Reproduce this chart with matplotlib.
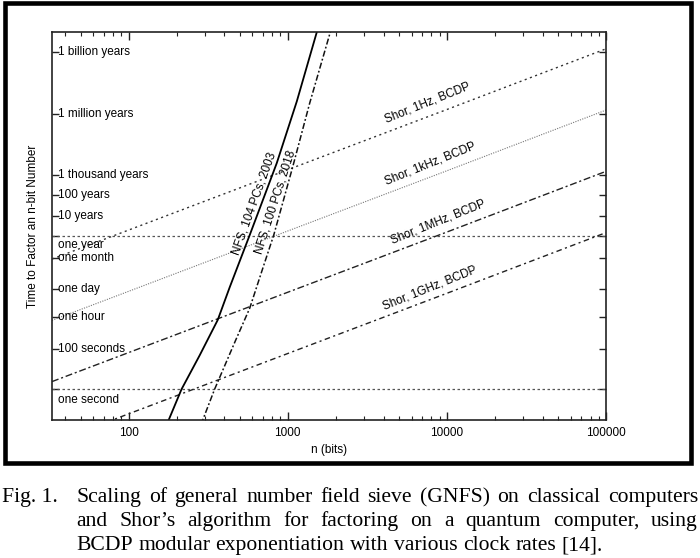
import matplotlib
matplotlib.use("Agg")
import matplotlib.pyplot as plt
from matplotlib.ticker import LogLocator, NullLocator, NullFormatter
from matplotlib.patches import Rectangle

# figure size in pixels (dpi 100)
W = 700; H = 558

# Shor's algorithm, BCDP, time in years vs n (bits)
n_shor    = [33, 100, 1000, 10000, 100000]
shor_1hz  = [0.076, 2.0, 1800, 1.6e6, 1.5e9]
shor_1khz = [7.6e-5, 2.0e-3, 1.8, 1600, 1.5e6]
shor_1mhz = [7.6e-8, 2.0e-6, 1.8e-3, 1.6, 1500]
shor_1ghz = [7.6e-11, 2.0e-9, 1.8e-6, 1.6e-3, 1.5]

# GNFS on classical machines, time in years
nfs_2003_n     = [170, 215, 280, 363, 432, 577, 853, 1140, 1560]
nfs_2003_years = [4e-10, 3.2e-8, 1.5e-6, 7.9e-5, 3.2e-3, 1.15, 3800, 4.0e6, 1.9e10]
nfs_2018_n     = [285, 347, 470, 577, 700, 817, 1074, 1374, 1880]
nfs_2018_years = [6e-10, 3.2e-8, 7.9e-6, 3.0e-4, 0.03, 1.15, 2450, 3.3e6, 1.5e10]

# reference lines: one year, one second
ref_years = [1.0, 3.17e-8]

xtick_vals   = [100, 1000, 10000, 100000]
xtick_labels = ["100", "1000", "10000", "100000"]

ytick_years  = [1e9, 1e6, 1e3, 100, 10, 1.0, 1/12, 2.738e-3, 1.141e-4, 3.169e-6, 3.17e-8]
ytick_labels = ["1 billion years", "1 million years", "1 thousand years", "100 years",
                "10 years", "one year", "one month", "one day", "one hour",
                "100 seconds", "one second"]
ytick_drop   = {"one year": -9, "one second": -11}   # px, label sits under the line

plt.rcParams['font.family'] = ['Liberation Sans', 'DejaVu Sans']
fs = 8.5

fig = plt.figure(figsize=(W/100, H/100), dpi=100)
ax = fig.add_axes([52/W, 1-420/H, (606-52)/W, (420-32)/H])
ax.set_xscale('log'); ax.set_yscale('log')
ax.set_xlim(33, 1e5)
ax.set_ylim(1e-9, 1e10)

for y in ref_years:
    ax.axhline(y, color='#555555', lw=0.9, ls=(0, (2, 2)))

ax.plot(n_shor, shor_1hz,  color='#333333', lw=1.0, ls=(0, (1.5, 2.5)))
ax.plot(n_shor, shor_1khz, color='#777777', lw=0.8, ls=(0, (1, 1.2)))
ax.plot(n_shor, shor_1mhz, color='#222222', lw=1.0, ls=(0, (5, 2, 1.5, 2)))
ax.plot(n_shor, shor_1ghz, color='#222222', lw=1.0, ls=(0, (4, 2.5, 1.5, 2.5)))

ax.plot(nfs_2003_n, nfs_2003_years, color='black', lw=1.3, ls='-')
ax.plot(nfs_2018_n, nfs_2018_years, color='#111111', lw=1.1, ls=(0, (4, 1.5, 1.2, 1.5)))

# line labels
ax.text(0.677, 0.817, "Shor, 1Hz, BCDP", transform=ax.transAxes, rotation=22,
        ha='center', va='center', rotation_mode='anchor', fontsize=fs)
ax.text(0.682, 0.660, "Shor, 1kHz, BCDP", transform=ax.transAxes, rotation=22,
        ha='center', va='center', rotation_mode='anchor', fontsize=fs)
ax.text(0.697, 0.510, "Shor, 1MHz, BCDP", transform=ax.transAxes, rotation=22,
        ha='center', va='center', rotation_mode='anchor', fontsize=fs)
ax.text(0.682, 0.340, "Shor, 1GHz, BCDP", transform=ax.transAxes, rotation=22,
        ha='center', va='center', rotation_mode='anchor', fontsize=fs)
ax.text(0.366, 0.557, "NFS, 104 PCs, 2003", transform=ax.transAxes, rotation=70,
        ha='center', va='center', rotation_mode='anchor', fontsize=fs)
ax.text(0.403, 0.562, "NFS, 100 PCs, 2018", transform=ax.transAxes, rotation=72,
        ha='center', va='center', rotation_mode='anchor', fontsize=fs)

# ticks
ax.set_xticks(xtick_vals)
ax.set_xticklabels(xtick_labels)
ax.xaxis.set_minor_locator(LogLocator(base=10, subs=range(2, 10)))
ax.xaxis.set_minor_formatter(NullFormatter())
ax.set_yticks(ytick_years)
ax.yaxis.set_minor_locator(NullLocator())
ax.tick_params(which='both', direction='in', top=True, right=True, color='#222222')
ax.tick_params(which='major', length=6, width=1)
ax.tick_params(which='minor', length=3, width=0.8)
ax.tick_params(axis='y', which='major', length=5, labelleft=False)
ax.tick_params(axis='x', pad=5, labelsize=fs)

for val, lab in zip(ytick_years, ytick_labels):
    dy = ytick_drop.get(lab, 0)
    ax.annotate(lab, xy=(0, val), xycoords=ax.get_yaxis_transform(),
                xytext=(6*0.72, dy*0.72), textcoords='offset points',
                ha='left', va='center', fontsize=fs)

for s in ax.spines.values():
    s.set_linewidth(1.2); s.set_color('#222222')

ax.text(0.5, (420-450)/388, "n (bits)", transform=ax.transAxes,
        ha='center', va='center', fontsize=fs)
ax.text((33-52)/554, (420-226)/388, "Time to Factor an n-bit Number",
        transform=ax.transAxes, rotation=90, ha='center', va='center', fontsize=fs)

# thick frame around the chart
fig.add_artist(Rectangle((4.5/W, 1-462.5/H), 686/W, 460/H, transform=fig.transFigure,
                         fill=False, lw=3.3, ec='black'))

# caption, justified word by word
cap_font = dict(family='Liberation Serif', size=15.6, color='black')
renderer = fig.canvas.get_renderer()

def put_line(words, x_left, x_right, y_base, justify):
    texts = [fig.text(0, 1-y_base/H, w, ha='left', va='baseline', **cap_font) for w in words]
    widths = [t.get_window_extent(renderer).width for t in texts]
    if justify:
        gap = (x_right - x_left - sum(widths)) / (len(words)-1)
    else:
        gap = 0.25 * cap_font['size'] * 100/72
    x = x_left
    for t, w in zip(texts, widths):
        t.set_x(x/W)
        x += w + gap

fig.text(2/W, 1-502/H, "Fig. 1.", ha='left', va='baseline', **cap_font)
put_line("Scaling of general number field sieve (GNFS) on classical computers".split(),
         76, 698, 502, True)
put_line("and Shor\u2019s algorithm for factoring on a quantum computer, using".split(),
         76, 698, 526, True)
put_line("BCDP modular exponentiation with various clock rates [14].".split(),
         76, 698, 550, False)

fig.savefig("out.png", dpi=100)
